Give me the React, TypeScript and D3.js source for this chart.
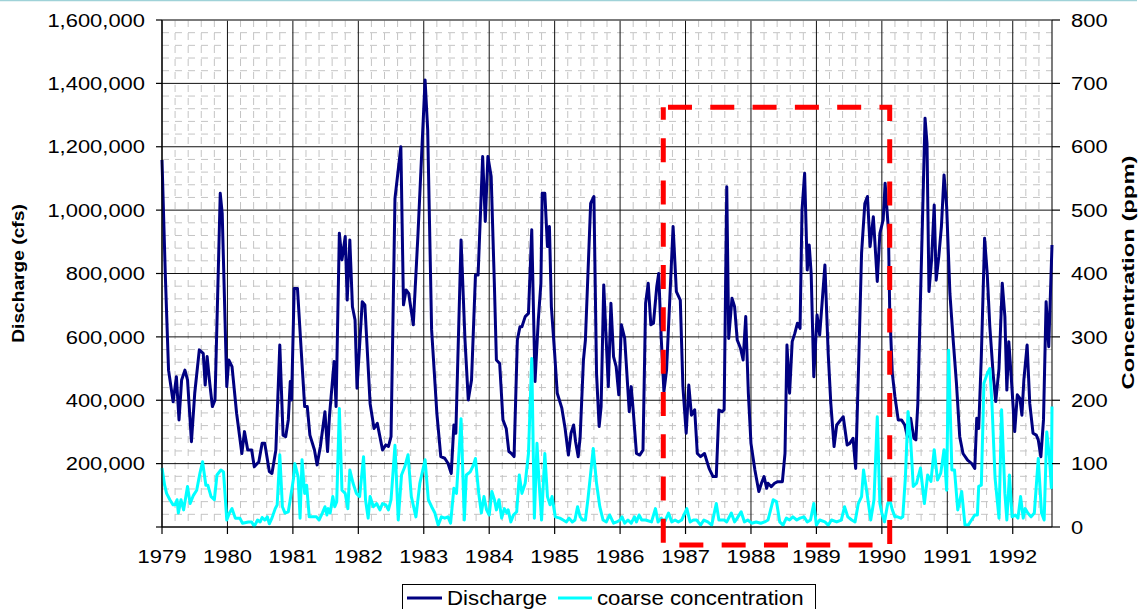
import React from 'react';
import * as d3 from 'd3';

// Axis ticks
const yearTicks = [1979, 1980, 1981, 1982, 1983, 1984, 1985, 1986, 1987, 1988, 1989, 1990, 1991, 1992];
const dischargeTicks = [0, 200000, 400000, 600000, 800000, 1000000, 1200000, 1400000, 1600000];
const concentrationTicks = [0, 100, 200, 300, 400, 500, 600, 700, 800];

// Monthly-ish discharge record, [decimal year, cfs]
const discharge: [number, number][] = [
  [1979.00, 1158000], [1979.05, 800000], [1979.10, 495000], [1979.17, 395000], [1979.22, 474000],
  [1979.26, 338000], [1979.30, 464000], [1979.35, 495000], [1979.39, 464000], [1979.45, 269000],
  [1979.50, 422000], [1979.57, 559000], [1979.63, 548000], [1979.66, 448000], [1979.69, 538000],
  [1979.73, 453000], [1979.77, 380000], [1979.81, 401000], [1979.89, 1053000], [1979.92, 990000],
  [1979.99, 443000], [1980.02, 527000], [1980.07, 506000], [1980.14, 359000], [1980.22, 232000],
  [1980.26, 301000], [1980.31, 243000], [1980.37, 243000], [1980.41, 190000], [1980.48, 206000],
  [1980.53, 264000], [1980.57, 264000], [1980.64, 175000], [1980.68, 169000], [1980.74, 243000],
  [1980.80, 574000], [1980.85, 290000], [1980.89, 285000], [1980.93, 338000], [1980.96, 459000],
  [1980.98, 401000], [1981.02, 753000], [1981.07, 753000], [1981.13, 548000], [1981.18, 380000],
  [1981.22, 380000], [1981.26, 290000], [1981.33, 243000], [1981.37, 196000], [1981.42, 254000],
  [1981.49, 364000], [1981.53, 238000], [1981.56, 353000], [1981.63, 522000], [1981.66, 380000],
  [1981.71, 927000], [1981.75, 843000], [1981.80, 917000], [1981.83, 716000], [1981.87, 906000],
  [1981.91, 695000], [1981.95, 653000], [1981.98, 438000], [1982.06, 711000], [1982.10, 701000],
  [1982.18, 390000], [1982.24, 311000], [1982.29, 327000], [1982.37, 243000], [1982.42, 259000],
  [1982.46, 254000], [1982.50, 285000], [1982.56, 1037000], [1982.65, 1200000], [1982.69, 701000],
  [1982.73, 748000], [1982.77, 737000], [1982.84, 638000], [1982.91, 917000], [1983.02, 1411000],
  [1983.06, 1253000], [1983.12, 622000], [1983.20, 359000], [1983.26, 222000], [1983.32, 217000],
  [1983.37, 201000], [1983.42, 169000], [1983.46, 322000], [1983.49, 296000], [1983.57, 906000],
  [1983.63, 590000], [1983.68, 401000], [1983.73, 464000], [1983.79, 795000], [1983.83, 795000],
  [1983.90, 1169000], [1983.94, 964000], [1983.98, 1169000], [1984.03, 1106000], [1984.08, 758000],
  [1984.11, 527000], [1984.16, 516000], [1984.21, 338000], [1984.26, 311000], [1984.30, 238000],
  [1984.34, 232000], [1984.38, 222000], [1984.43, 590000], [1984.47, 632000], [1984.50, 632000],
  [1984.55, 664000], [1984.60, 674000], [1984.65, 938000], [1984.70, 459000], [1984.75, 653000],
  [1984.79, 769000], [1984.81, 1053000], [1984.85, 1053000], [1984.89, 885000], [1984.92, 948000],
  [1984.95, 695000], [1985.00, 548000], [1985.04, 422000], [1985.11, 375000], [1985.16, 311000],
  [1985.21, 227000], [1985.25, 296000], [1985.29, 322000], [1985.32, 269000], [1985.36, 222000],
  [1985.39, 285000], [1985.44, 527000], [1985.47, 590000], [1985.55, 1021000], [1985.60, 1043000],
  [1985.64, 485000], [1985.68, 317000], [1985.71, 380000], [1985.75, 764000], [1985.82, 443000],
  [1985.86, 706000], [1985.90, 538000], [1985.94, 506000], [1985.98, 417000], [1986.02, 638000],
  [1986.07, 596000], [1986.14, 364000], [1986.17, 443000], [1986.20, 369000], [1986.25, 232000],
  [1986.30, 227000], [1986.35, 243000], [1986.39, 706000], [1986.43, 769000], [1986.47, 638000],
  [1986.51, 643000], [1986.56, 758000], [1986.59, 800000], [1986.63, 590000], [1986.67, 427000],
  [1986.71, 495000], [1986.81, 948000], [1986.86, 743000], [1986.92, 716000], [1986.96, 443000],
  [1987.01, 296000], [1987.05, 448000], [1987.09, 353000], [1987.14, 370000], [1987.18, 232000],
  [1987.23, 222000], [1987.29, 232000], [1987.36, 185000], [1987.42, 159000], [1987.47, 159000],
  [1987.51, 369000], [1987.56, 364000], [1987.59, 370000], [1987.63, 1074000], [1987.66, 595000],
  [1987.71, 722000], [1987.75, 695000], [1987.79, 590000], [1987.84, 564000], [1987.88, 527000],
  [1987.92, 664000], [1987.96, 422000], [1988.00, 264000], [1988.06, 180000], [1988.12, 112000],
  [1988.16, 138000], [1988.20, 159000], [1988.24, 122000], [1988.26, 138000], [1988.31, 127000],
  [1988.36, 138000], [1988.41, 143000], [1988.48, 143000], [1988.52, 232000], [1988.55, 574000],
  [1988.59, 422000], [1988.63, 585000], [1988.67, 611000], [1988.71, 643000], [1988.75, 627000],
  [1988.78, 1000000], [1988.82, 1116000], [1988.86, 811000], [1988.89, 890000], [1988.92, 800000],
  [1988.96, 474000], [1989.01, 669000], [1989.05, 606000], [1989.09, 716000], [1989.13, 827000],
  [1989.18, 548000], [1989.22, 390000], [1989.27, 254000], [1989.31, 322000], [1989.41, 348000],
  [1989.47, 259000], [1989.51, 264000], [1989.56, 280000], [1989.60, 185000], [1989.65, 548000],
  [1989.69, 864000], [1989.74, 1021000], [1989.78, 1043000], [1989.82, 885000], [1989.87, 979000],
  [1989.93, 775000], [1989.97, 927000], [1990.02, 969000], [1990.05, 1085000], [1990.10, 938000],
  [1990.12, 685000], [1990.16, 485000], [1990.20, 411000], [1990.25, 338000], [1990.30, 338000],
  [1990.35, 322000], [1990.39, 285000], [1990.44, 343000], [1990.49, 280000], [1990.52, 275000],
  [1990.55, 390000], [1990.60, 800000], [1990.66, 1290000], [1990.69, 1211000], [1990.72, 743000],
  [1990.76, 843000], [1990.80, 1016000], [1990.83, 779000], [1990.87, 853000], [1990.91, 948000],
  [1990.95, 1111000], [1990.99, 1011000], [1991.04, 737000], [1991.09, 590000], [1991.14, 453000],
  [1991.19, 285000], [1991.24, 232000], [1991.31, 211000], [1991.37, 201000], [1991.42, 185000],
  [1991.45, 343000], [1991.48, 311000], [1991.52, 538000], [1991.57, 911000], [1991.61, 800000],
  [1991.65, 632000], [1991.70, 485000], [1991.74, 396000], [1991.79, 500000], [1991.84, 769000],
  [1991.88, 664000], [1991.91, 432000], [1991.94, 585000], [1991.98, 464000], [1992.03, 301000],
  [1992.07, 417000], [1992.11, 406000], [1992.14, 353000], [1992.17, 464000], [1992.22, 574000],
  [1992.26, 390000], [1992.31, 296000], [1992.36, 290000], [1992.39, 275000], [1992.43, 222000],
  [1992.47, 338000], [1992.51, 711000], [1992.55, 569000], [1992.60, 890000],
];

// Coarse sediment concentration, [decimal year, ppm]
const coarseConcentration: [number, number][] = [
  [1979.00, 93], [1979.04, 66], [1979.07, 53], [1979.12, 43], [1979.17, 35], [1979.20, 35],
  [1979.23, 43], [1979.25, 22], [1979.29, 43], [1979.33, 27], [1979.39, 64], [1979.43, 37],
  [1979.48, 50], [1979.53, 58], [1979.58, 85], [1979.62, 103], [1979.67, 66], [1979.70, 66],
  [1979.75, 48], [1979.80, 43], [1979.84, 82], [1979.90, 90], [1979.94, 87], [1979.99, 11],
  [1980.03, 22], [1980.07, 29], [1980.12, 14], [1980.19, 14], [1980.23, 6], [1980.32, 8],
  [1980.37, 8], [1980.41, 1], [1980.46, 11], [1980.50, 8], [1980.53, 15], [1980.57, 11],
  [1980.61, 16], [1980.64, 5], [1980.68, 14], [1980.73, 29], [1980.76, 35], [1980.80, 114],
  [1980.84, 32], [1980.88, 22], [1980.93, 24], [1980.97, 50], [1981.01, 77], [1981.03, 100],
  [1981.08, 79], [1981.11, 14], [1981.14, 106], [1981.18, 53], [1981.21, 66], [1981.25, 16],
  [1981.30, 16], [1981.36, 16], [1981.40, 11], [1981.45, 22], [1981.49, 32], [1981.52, 19],
  [1981.54, 29], [1981.57, 22], [1981.61, 48], [1981.64, 32], [1981.67, 40], [1981.71, 187],
  [1981.75, 58], [1981.80, 53], [1981.84, 29], [1981.87, 90], [1981.92, 69], [1981.97, 53],
  [1982.02, 48], [1982.08, 111], [1982.11, 43], [1982.15, 14], [1982.18, 48], [1982.23, 32],
  [1982.28, 37], [1982.33, 27], [1982.37, 37], [1982.42, 35], [1982.46, 27], [1982.50, 43],
  [1982.56, 129], [1982.61, 11], [1982.66, 82], [1982.71, 95], [1982.76, 114], [1982.81, 48],
  [1982.88, 16], [1982.94, 69], [1983.02, 106], [1983.07, 43], [1983.12, 32], [1983.17, 22],
  [1983.22, 3], [1983.27, 16], [1983.32, 14], [1983.37, 16], [1983.41, 6], [1983.46, 61],
  [1983.50, 53], [1983.57, 171], [1983.62, 11], [1983.65, 82], [1983.71, 87], [1983.76, 98],
  [1983.79, 108], [1983.84, 53], [1983.88, 22], [1983.92, 48], [1983.96, 27], [1984.00, 19],
  [1984.04, 56], [1984.08, 43], [1984.11, 27], [1984.15, 43], [1984.19, 14], [1984.23, 29],
  [1984.27, 22], [1984.29, 27], [1984.33, 8], [1984.37, 19], [1984.42, 24], [1984.46, 82],
  [1984.50, 53], [1984.55, 69], [1984.60, 116], [1984.65, 266], [1984.69, 14], [1984.73, 132],
  [1984.76, 74], [1984.80, 11], [1984.85, 116], [1984.89, 48], [1984.93, 35], [1984.96, 48],
  [1985.01, 16], [1985.08, 14], [1985.13, 11], [1985.18, 8], [1985.22, 14], [1985.27, 8],
  [1985.31, 11], [1985.35, 32], [1985.39, 16], [1985.43, 11], [1985.47, 11], [1985.51, 45],
  [1985.59, 124], [1985.64, 69], [1985.69, 32], [1985.74, 11], [1985.79, 8], [1985.84, 19],
  [1985.90, 6], [1985.95, 8], [1986.00, 11], [1986.03, 16], [1986.07, 6], [1986.12, 11],
  [1986.17, 6], [1986.22, 16], [1986.25, 8], [1986.29, 19], [1986.33, 11], [1986.39, 11],
  [1986.48, 8], [1986.54, 29], [1986.58, 8], [1986.63, 14], [1986.68, 8], [1986.74, 22],
  [1986.79, 8], [1986.84, 11], [1986.89, 8], [1986.94, 11], [1987.02, 29], [1987.07, 8],
  [1987.12, 11], [1987.17, 11], [1987.23, 3], [1987.28, 11], [1987.34, 8], [1987.40, 3],
  [1987.47, 37], [1987.51, 11], [1987.59, 11], [1987.63, 8], [1987.70, 22], [1987.75, 8],
  [1987.79, 14], [1987.85, 24], [1987.90, 8], [1987.95, 11], [1988.01, 6], [1988.08, 8],
  [1988.15, 6], [1988.21, 8], [1988.26, 11], [1988.34, 43], [1988.39, 40], [1988.44, 8],
  [1988.49, 3], [1988.54, 14], [1988.59, 11], [1988.64, 16], [1988.70, 11], [1988.75, 14],
  [1988.81, 16], [1988.86, 8], [1988.91, 11], [1988.96, 37], [1989.00, 3], [1989.05, 11],
  [1989.13, 8], [1989.18, 3], [1989.23, 11], [1989.31, 8], [1989.38, 11], [1989.43, 32],
  [1989.48, 16], [1989.54, 11], [1989.59, 8], [1989.64, 37], [1989.69, 48], [1989.72, 90],
  [1989.78, 48], [1989.83, 11], [1989.88, 43], [1989.93, 174], [1989.97, 37], [1990.00, 22],
  [1990.04, 8], [1990.09, 37], [1990.12, 43], [1990.16, 27], [1990.20, 16], [1990.24, 16],
  [1990.29, 14], [1990.32, 16], [1990.36, 79], [1990.40, 182], [1990.44, 137], [1990.48, 64],
  [1990.53, 69], [1990.59, 93], [1990.65, 37], [1990.70, 82], [1990.75, 72], [1990.80, 122],
  [1990.85, 74], [1990.90, 85], [1990.95, 122], [1990.99, 58], [1991.02, 279], [1991.07, 90],
  [1991.11, 90], [1991.16, 27], [1991.22, 56], [1991.27, 3], [1991.32, 3], [1991.37, 11],
  [1991.42, 19], [1991.46, 19], [1991.48, 64], [1991.52, 66], [1991.56, 227], [1991.61, 242],
  [1991.65, 250], [1991.68, 200], [1991.73, 77], [1991.79, 14], [1991.83, 185], [1991.88, 53],
  [1991.91, 11], [1991.95, 82], [1991.99, 16], [1992.04, 19], [1992.08, 14], [1992.12, 48],
  [1992.16, 14], [1992.19, 29], [1992.23, 22], [1992.28, 16], [1992.33, 22], [1992.39, 108],
  [1992.44, 22], [1992.48, 11], [1992.52, 150], [1992.56, 111], [1992.59, 62], [1992.60, 190],
];

// Highlighted period (dashed red box)
const highlightStart = 1986.66;
const highlightEnd = 1990.12;
const highlightTop = 1325000;
const highlightBottom = -57000;

const W = 1145;
const H = 609;
const plotLeft = 162;
const plotRight = 1052;
const plotTop = 20;
const plotBottom = 527;

const FONT = "'Liberation Sans', Arial, Helvetica, sans-serif";
const fmt = d3.format(',');

const x = d3.scaleLinear().domain([1979, 1992.6]).range([plotLeft, plotRight]);
const y = d3.scaleLinear().domain([0, 1600000]).range([plotBottom, plotTop]);
const y2 = d3.scaleLinear().domain([0, 800]).range([plotBottom, plotTop]);

const dischargeLine = d3.line<[number, number]>().x(d => x(d[0])).y(d => y(d[1]));
const concentrationLine = d3.line<[number, number]>().x(d => x(d[0])).y(d => y2(d[1]));

function WideText(props: {
  x: number; y: number; sx: number; size: number; anchor: string;
  rotate?: number; bold?: boolean; children: React.ReactNode;
}) {
  const { x: tx, y: ty, sx, size, anchor, rotate = 0, bold, children } = props;
  return (
    <text
      transform={`translate(${tx},${ty}) rotate(${rotate}) scale(${sx},1)`}
      textAnchor={anchor}
      fontFamily={FONT}
      fontSize={size}
      fontWeight={bold ? 'bold' : 'normal'}
      fill="#000"
    >
      {children}
    </text>
  );
}

export default function App() {
  const minorYears = d3.range(0, 69).map(i => 1979 + i * 0.2).filter((v, i) => i % 5 !== 0 && v < 1992.59);
  const minorDischarge = d3.range(0, 41).map(i => i * 40000).filter((v, i) => i % 5 !== 0);

  const rx1 = x(highlightStart);
  const rx2 = x(highlightEnd);
  const ry1 = y(highlightTop);
  const ry2 = y(highlightBottom);
  const boxPath = `M${rx1},${ry1}H${rx2}V${ry2}H${rx1}Z`;
  const midY = (plotTop + plotBottom) / 2;

  return (
    <svg width={W} height={H} style={{ position: 'absolute', left: 0, top: 0, background: '#fff' }}>
      <rect x={0} y={0} width={W} height={H} fill="#fff" />
      <line x1={0} x2={1137} y1={0.5} y2={0.5} stroke="#9fd2d8" strokeWidth={1.5} />

      {/* minor grid */}
      <g stroke="#c4c4c4" strokeWidth={1} strokeDasharray="7 6">
        {minorYears.map(v => (
          <line key={'mx' + v} x1={x(v)} x2={x(v)} y1={plotTop} y2={plotBottom} />
        ))}
        {minorDischarge.map(v => (
          <line key={'my' + v} x1={plotLeft} x2={plotRight} y1={y(v)} y2={y(v)} />
        ))}
      </g>

      {/* major grid */}
      <g stroke="#111" strokeWidth={1}>
        {yearTicks.map(v => (
          <line key={'gx' + v} x1={x(v)} x2={x(v)} y1={plotTop} y2={plotBottom} />
        ))}
        {dischargeTicks.map(v => (
          <line key={'gy' + v} x1={plotLeft} x2={plotRight} y1={y(v)} y2={y(v)} />
        ))}
      </g>
      <line x1={plotLeft} x2={plotRight} y1={plotTop} y2={plotTop} stroke="#777" strokeWidth={1.5} />
      <line x1={plotRight} x2={plotRight} y1={plotTop} y2={plotBottom} stroke="#222" strokeWidth={1.2} />

      {/* series */}
      <path d={dischargeLine(discharge) || ''} fill="none" stroke="#000080" strokeWidth={3} strokeLinejoin="round" />
      <path d={concentrationLine(coarseConcentration) || ''} fill="none" stroke="#00ffff" strokeWidth={3} strokeLinejoin="round" />

      {/* axes */}
      <g stroke="#000" strokeWidth={1.2}>
        <line x1={plotLeft} x2={plotLeft} y1={plotTop} y2={plotBottom} />
        <line x1={plotLeft} x2={plotRight} y1={plotBottom} y2={plotBottom} />
        {dischargeTicks.map(v => (
          <line key={'tl' + v} x1={plotLeft - 6} x2={plotLeft} y1={y(v)} y2={y(v)} />
        ))}
        {concentrationTicks.map(v => (
          <line key={'tr' + v} x1={plotRight} x2={plotRight + 8} y1={y2(v)} y2={y2(v)} />
        ))}
        {yearTicks.map(v => (
          <line key={'tx' + v} x1={x(v)} x2={x(v)} y1={plotBottom} y2={plotBottom + 7} />
        ))}
      </g>

      {/* tick labels */}
      {dischargeTicks.filter(v => v > 0).map(v => (
        <WideText key={'ll' + v} x={145} y={y(v) + 6.7} sx={1.18} size={18.6} anchor="end">{fmt(v)}</WideText>
      ))}
      {concentrationTicks.map(v => (
        <WideText key={'rl' + v} x={1071} y={y2(v) + 6.7} sx={1.18} size={18.6} anchor="start">{String(v)}</WideText>
      ))}
      {yearTicks.map(v => (
        <WideText key={'xl' + v} x={x(v)} y={563} sx={1.18} size={18.6} anchor="middle">{String(v)}</WideText>
      ))}

      {/* axis titles */}
      <WideText x={24} y={midY} sx={1.2} size={16} anchor="middle" rotate={-90} bold>Discharge (cfs)</WideText>
      <WideText x={1134} y={midY - 1} sx={1.4} size={17} anchor="middle" rotate={-90} bold>Concentration (ppm)</WideText>

      {/* highlighted period */}
      <path d={boxPath} fill="none" stroke="#ff0000" strokeWidth={5} strokeDasharray="24 18.3" strokeDashoffset={37.6} />

      {/* legend */}
      <g>
        <rect x={402.5} y={584.5} width={413} height={30} fill="#fff" stroke="#000" strokeWidth={1} />
        <line x1={407} x2={442} y1={598} y2={598} stroke="#000080" strokeWidth={3} />
        <WideText x={447} y={605} sx={1.06} size={21} anchor="start">Discharge</WideText>
        <line x1={558} x2={592} y1={598} y2={598} stroke="#00ffff" strokeWidth={3} />
        <WideText x={597} y={605} sx={1.06} size={21} anchor="start">coarse concentration</WideText>
      </g>
    </svg>
  );
}
